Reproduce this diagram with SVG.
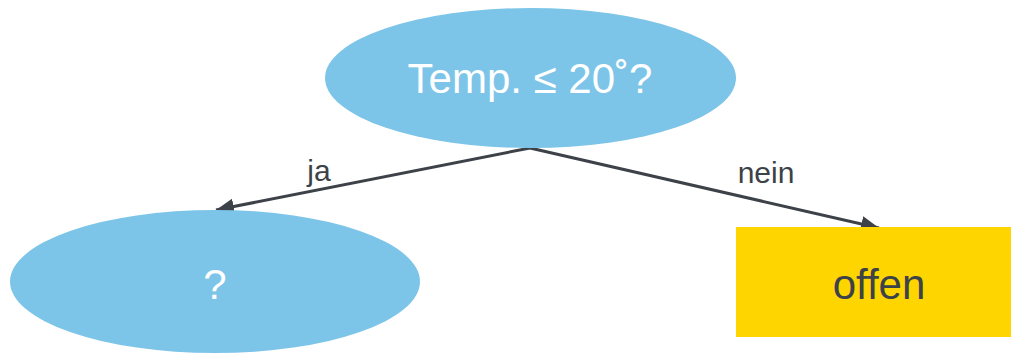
<svg xmlns="http://www.w3.org/2000/svg" width="1011" height="354" viewBox="0 0 1011 354">
<defs>
<style>
.oval{fill:#7dc5e8}
.box{fill:#ffd500}
.lt{font-family:"Liberation Sans",Arial,sans-serif;font-size:42px;text-anchor:middle;fill:#ffffff}
.dt{font-family:"Liberation Sans",Arial,sans-serif;font-size:42px;text-anchor:middle;fill:#3c4248}
.el{font-family:"Liberation Sans",Arial,sans-serif;font-size:30px;text-anchor:middle;fill:#3c4248}
.edge{stroke:#3c4248;stroke-width:3;fill:none;marker-end:url(#ah)}
</style>
<marker id="ah" markerUnits="userSpaceOnUse" markerWidth="20" markerHeight="16" refX="18" refY="8" orient="auto">
<path d="M0,0 L18,8 L0,16 Z" fill="#3c4248"/>
</marker>
</defs>
<g id="connectors">
<line class="edge" x1="530" y1="148" x2="216" y2="210"/>
<line class="edge" x1="530" y1="148" x2="879" y2="228"/>
<text class="el" x="319" y="181">ja</text>
<text class="el" x="766" y="183">nein</text>
</g>
<g id="n_temp">
<ellipse class="oval" cx="530.5" cy="78" rx="205.5" ry="70"/>
<text class="lt" x="530" y="93">Temp. ≤ 20˚?</text>
</g>
<g id="n_q">
<ellipse class="oval" cx="215" cy="281.5" rx="205" ry="71.5"/>
<text class="lt" x="215" y="299">?</text>
</g>
<g id="n_offen">
<rect class="box" x="736" y="227" width="275" height="110"/>
<text class="dt" x="879" y="299">offen</text>
</g>
</svg>
